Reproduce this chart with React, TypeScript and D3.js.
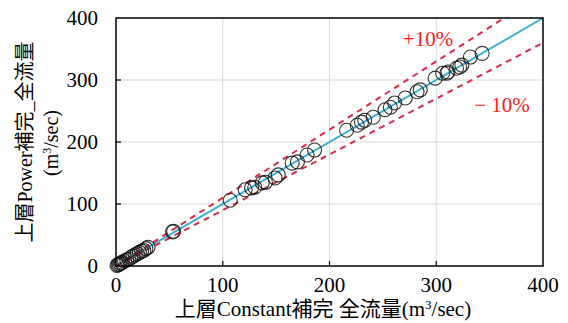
import React from "react";
import * as d3 from "d3";

const constantFlow: number[] = [1, 2, 3, 4, 5, 6, 8, 10, 12, 14, 16, 18, 20, 22, 24, 26, 28, 30, 53, 54,
  107, 121, 127, 130, 137, 140, 149, 152, 165, 170, 179, 186,
  216, 226, 230, 233, 241, 252, 257, 261, 271, 282, 285, 299, 310,
  306, 311, 319, 322, 324, 332, 343];
const powerFlow: number[] = [1, 2, 3, 4, 5, 6, 8, 10, 11, 14, 16, 18, 20, 22, 24, 25, 28, 30, 55, 56,
  106, 123, 126, 127, 134, 135, 142, 147, 166, 168, 179, 187,
  219, 227, 232, 235, 240, 252, 256, 263, 271, 281, 284, 303, 311,
  311, 313, 319, 321, 324, 337, 343];
const ticks: number[] = [0, 100, 200, 300, 400];
const gridTicks: number[] = [100, 200, 300];

const W = 568, H = 323;
const L = 116, R = 543, T = 18, B = 266;

export default function App() {
  const x = d3.scaleLinear().domain([0, 400]).range([L, R]);
  const y = d3.scaleLinear().domain([0, 400]).range([B, T]);
  const line = d3.line<[number, number]>().x(d => x(d[0])).y(d => y(d[1]));
  const serif = "'Liberation Serif', 'Times New Roman', serif";
  const cjk = "'Liberation Serif', 'Noto Sans CJK JP', serif";
  return (
    <svg width={W} height={H} style={{ position: "absolute", left: 0, top: 0, background: "#fff" }}>
      <rect x={0} y={0} width={W} height={H} fill="#fff" />
      {gridTicks.map(t => (
        <g key={"g" + t}>
          <line x1={x(t)} x2={x(t)} y1={T} y2={B} stroke="#d9d9d9" strokeWidth={1} />
          <line x1={L} x2={R} y1={y(t)} y2={y(t)} stroke="#d9d9d9" strokeWidth={1} />
        </g>
      ))}
      {gridTicks.map(t => (
        <g key={"t" + t}>
          <line x1={x(t)} x2={x(t)} y1={B} y2={B - 5} stroke="#000" strokeWidth={1.2} />
          <line x1={L} x2={L + 5} y1={y(t)} y2={y(t)} stroke="#000" strokeWidth={1.2} />
        </g>
      ))}
      <path d={line([[0, 0], [400, 400]]) || ""} stroke="#3ab0d4" strokeWidth={2} fill="none" />
      <path d={line([[0, 0], [400 / 1.1, 400]]) || ""} stroke="#dc2a48" strokeWidth={2} strokeDasharray="6,5" fill="none" />
      <path d={line([[0, 0], [400, 360]]) || ""} stroke="#dc2a48" strokeWidth={2} strokeDasharray="6,5" fill="none" />
      {constantFlow.map((v, i) => (
        <circle key={i} cx={x(v)} cy={y(powerFlow[i])} r={7} fill="none" stroke="#111" strokeOpacity={0.85} strokeWidth={1.1} />
      ))}
      <rect x={L} y={T} width={R - L} height={B - T} fill="none" stroke="#000" strokeWidth={1.5} />
      {ticks.map(t => (
        <text key={"xl" + t} x={x(t)} y={292} textAnchor="middle" fontFamily={serif} fontSize={21} fill="#000">{t}</text>
      ))}
      {ticks.map(t => (
        <text key={"yl" + t} x={98} y={y(t) + 7} textAnchor="end" fontFamily={serif} fontSize={21} fill="#000">{t}</text>
      ))}
      <text x={323} y={316} textAnchor="middle" fontFamily={cjk} fontSize={21} fill="#000">
        上層Constant補完 全流量(m<tspan dy={-7} fontSize={13}>3</tspan><tspan dy={7}>/sec)</tspan>
      </text>
      <text transform="translate(32,142) rotate(-90)" textAnchor="middle" fontFamily={cjk} fontSize={20} fill="#000">上層Power補完_全流量</text>
      <text transform="translate(58,143) rotate(-90)" textAnchor="middle" fontFamily={serif} fontSize={20} fill="#000">
        (m<tspan dy={-7} fontSize={12}>3</tspan><tspan dy={7}>/sec)</tspan>
      </text>
      <text x={428} y={46} textAnchor="middle" fontFamily={serif} fontSize={21} fill="#ff1a1a">+10%</text>
      <text x={502} y={112} textAnchor="middle" fontFamily={serif} fontSize={21} fill="#ff1a1a">− 10%</text>
    </svg>
  );
}
